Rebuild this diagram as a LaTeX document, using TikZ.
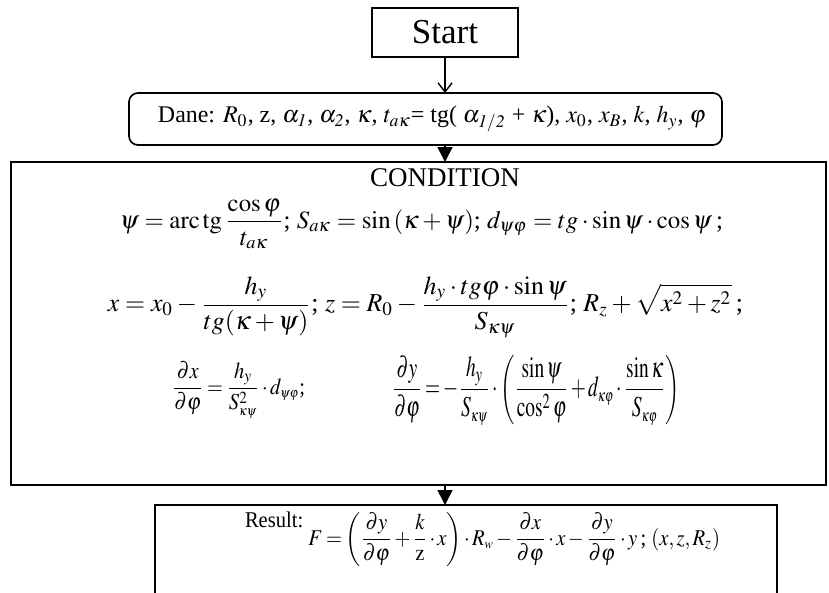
\documentclass[tikz,border=0pt]{standalone}
\usepackage{amsmath}
\usepackage{mathptmx}
\usepackage[no-math]{fontspec}
\setmainfont{Liberation Serif}
\usetikzlibrary{arrows.meta}
\tikzset{
  boxline/.style={draw=black, line width=1.7pt, inner sep=0pt, outer sep=0pt},
  txt/.style={inner sep=0pt, outer sep=0pt},
  openarrow/.style={line width=1.4pt, -{Straight Barb[length=9pt,width=14pt,line width=1.4pt]}},
  fillarrow/.style={line width=1.6pt, -{Triangle[length=15pt,width=15pt]}},
}
\newcommand{\tight}{\medmuskip=2mu\thickmuskip=3mu}
\begin{document}
\begin{tikzpicture}[x=1pt,y=-1pt]
\useasboundingbox (0,0) rectangle (829,592);
\clip (0,0) rectangle (829,592);
% boxes
\node[boxline, minimum width=146pt, minimum height=49pt, anchor=north west,
      font=\fontsize{35}{37}\selectfont] (start) at (372,8) {Start};
\node[boxline, rounded corners=9pt, minimum width=593pt, minimum height=52pt,
      anchor=north west] (dane) at (129,93) {};
\node[boxline, line width=2pt, minimum width=815pt, minimum height=323pt,
      anchor=north west] (cond) at (11,162) {};
\node[boxline, line width=1.9pt, minimum width=622pt, minimum height=110pt,
      anchor=north west] (res) at (155,505) {};
% arrow positions
\coordinate (ax) at (445,0);
\draw[openarrow] (start.south) -- (start.south |- dane.north);
\draw[fillarrow] (dane.south -| ax) -- (cond.north -| ax);
\draw[fillarrow] (cond.south -| ax) -- (res.north -| ax);
% Dane text
\node[txt] (danetext) at (432,119) {\resizebox{548pt}{!}{Dane: $R_{\mathrm{0}}$, z, $\alpha_{\mathit{1}}$, $\alpha_{\mathit{2}}$, $\kappa$, $t_{a\kappa}$= tg( $\alpha_{\mathit{1/2}}$ + $\kappa$), $x_{\mathrm{0}}$, $x_B$, $k$, $h_y$, $\varphi$}};
% condition contents
\node[txt, anchor=base, font=\fontsize{27}{30}\selectfont] (title) at (445,186) {CONDITION};
\node[txt] (l2) at (421.5,224) {\resizebox{603pt}{!}{$\displaystyle \psi = \operatorname{arc\,tg}\frac{\cos\varphi}{t_{a\kappa}}$;\ $\displaystyle S_{a\kappa} = \sin\left(\kappa+\psi\right)$;\ $\displaystyle d_{\psi\varphi} = tg\cdot\sin\psi\cdot\cos\psi$\,;}};
\node[txt] (l3) at (425.5,307) {\resizebox{635pt}{!}{$\displaystyle x = x_0 - \frac{h_y}{tg(\kappa+\psi)}$;\ $\displaystyle z = R_0 - \frac{h_y\cdot tg\varphi\cdot\sin\psi}{S_{\kappa\psi}}$; $\displaystyle R_z + \sqrt{x^2+z^2}$\,;}};
\node[txt] (l4a) at (238.5,390) {\resizebox*{133pt}{57pt}{$\tight\displaystyle \frac{\partial x}{\partial\varphi} = \frac{h_y}{S^2_{\scriptscriptstyle\kappa\psi}}\cdot d_{\scriptscriptstyle\psi\varphi}$;}};
\node[txt] (l4b) at (536,390) {\resizebox*{288pt}{70pt}{$\tight\displaystyle \frac{\partial y}{\partial\varphi} = -\frac{h_y}{S_{\scriptscriptstyle\kappa\psi}}\cdot\left(\frac{\sin\psi}{\cos^2\varphi}+d_{\scriptscriptstyle\kappa\varphi}\cdot\frac{\sin\kappa}{S_{\scriptscriptstyle\kappa\varphi}}\right)$}};
% result
\node[txt] (restext) at (482.5,539) {\resizebox*{475pt}{55pt}{\raisebox{8pt}{Result:} $\tight\displaystyle F = \left(\frac{\partial y}{\partial\varphi}+\frac{k}{\mathrm{z}}\cdot x\right)\cdot R_{\scriptscriptstyle w} - \frac{\partial x}{\partial\varphi}\cdot x - \frac{\partial y}{\partial\varphi}\cdot y$\,;\ $(x, z, R_z)$}};
\end{tikzpicture}
\end{document}
